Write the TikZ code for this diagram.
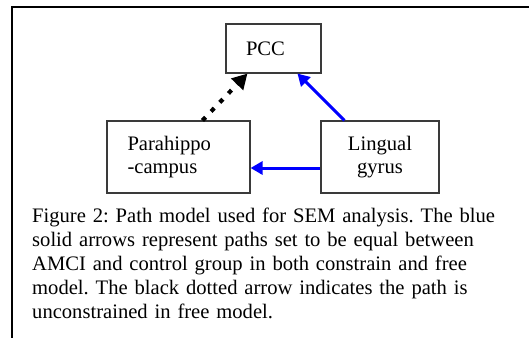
\documentclass[tikz,border=0pt]{standalone}
\usepackage{fontspec}
\setmainfont{Liberation Serif}
\usetikzlibrary{arrows.meta}
\definecolor{boxgray}{HTML}{3A3A3A}
\tikzset{
  box/.style={draw=boxgray, line width=1.1pt, fill=white, inner sep=0pt,
    font=\fontsize{20.6}{23}\selectfont},
  bluearrow/.style={draw=blue, line width=3pt, -{Triangle[length=12pt,width=13pt]}},
  dotarrow/.style={draw=black, line width=4.2pt, dash pattern=on 4.5pt off 8pt,
    -{Triangle[length=15pt,width=16pt]}},
  caption/.style={anchor=base west, inner sep=0pt, align=left, text width=490pt,
    font=\fontsize{20.6}{24}\selectfont}
}
\begin{document}
\frenchspacing
\begin{tikzpicture}[x=1pt,y=-1pt]
\useasboundingbox (0,0) rectangle (529,337);
\fill[white] (0,0) rectangle (529,337);
\draw[line width=1.7pt] (12.3,340) -- (12.3,7.3) -- (532,7.3);
\node[box, minimum width=95pt, minimum height=49pt, text width=55pt, align=left] (pcc) at (273.5,48.5) {PCC};
\node[box, minimum width=143pt, minimum height=72pt, text width=102pt, align=left] (para) at (178.5,157) {Parahippo\\-campus};
\node[box, minimum width=118pt, minimum height=72pt, text width=78pt, align=center] (ling) at (380,157) {Lingual\\gyrus};
\draw[dotarrow] ([xshift=96pt]para.north west) -- ([xshift=22pt]pcc.south west);
\draw[bluearrow] ([xshift=24pt]ling.north west) -- ([xshift=72pt]pcc.south west);
\draw[bluearrow] ([yshift=-11pt]ling.west) -- ([yshift=-11pt]para.east);
\node[caption] (cap) at (32,222.7) {Figure 2: Path model used for SEM analysis. The blue\\
solid arrows represent paths set to be equal between\\
AMCI and control group in both constrain and free\\
model. The black dotted arrow indicates the path is\\
unconstrained in free model.};
\end{tikzpicture}
\end{document}
